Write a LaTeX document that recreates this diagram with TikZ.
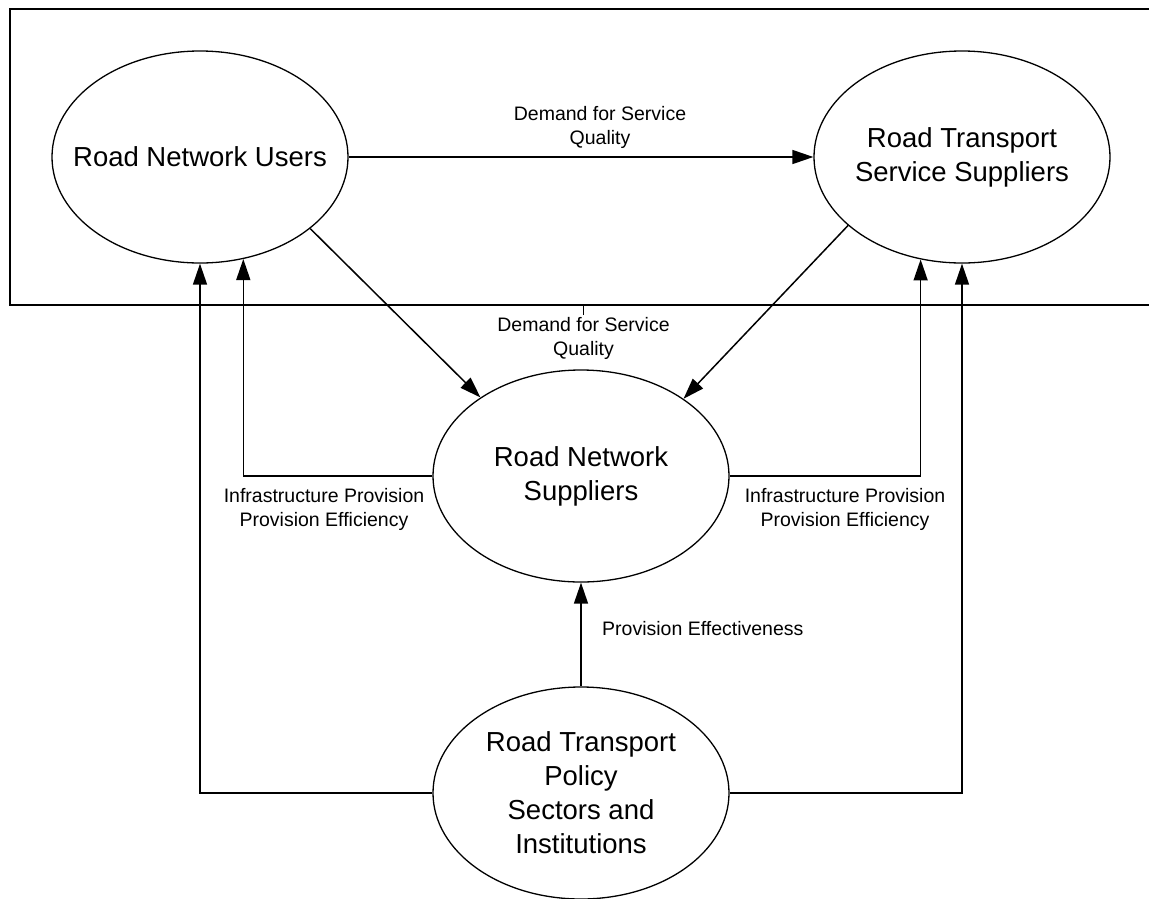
\documentclass[tikz,border=0pt]{standalone}
\usepackage{fontspec}
\setmainfont{Liberation Sans}
\usetikzlibrary{shapes.geometric, arrows.meta}

\begin{document}
\begin{tikzpicture}[x=1pt, y=-1pt,
    entity/.style={draw, ellipse, line width=1.3pt, minimum width=296pt, minimum height=212pt, inner sep=0pt},
    entitytext/.style={font=\fontsize{27.5}{34}\selectfont, align=center},
    flow/.style={-{Triangle[length=21pt, width=14pt]}, line width=1.5pt},
    note/.style={font=\fontsize{19.5}{24}\selectfont, align=center, inner sep=0pt}]
  \useasboundingbox (0,0) rectangle (1149,898);

  % Frame round the two upper actors (open on the right)
  \draw[line width=1.5pt] (1149,9) -- (10,9) -- (10,305) -- (1149,305);

  % Actors
  \node[entity, label={[entitytext]center:Road Network Users}] (users) at (200,157) {};
  \node[entity, label={[entitytext]center:Road Transport\\Service Suppliers}] (service) at (962,157) {};
  \node[entity, label={[entitytext]center:Road Network\\Suppliers}] (suppliers) at (581,476) {};
  \node[entity, label={[entitytext]center:Road Transport\\Policy\\Sectors and\\Institutions}] (policy) at (581,793) {};

  % Flows between actors
  \draw[flow] (users) -- (service);
  \draw[flow] (users.-33) -- (suppliers.142);
  \draw[flow] (service.211) -- (suppliers.37);
  \draw[flow] (policy) -- (suppliers);
  \draw[flow] (suppliers.west) -| (users.-67.5);
  \draw[flow] (suppliers.east) -| (service.-112.5);
  \draw[flow] (policy.west) -| (users.south);
  \draw[flow] (policy.east) -| (service.south);

  % Flow labels
  \node[note] (topdemand) at (600,127) {Demand for Service\\Quality};
  \node[note] (middemand) at (583.5,338.5) {Demand for Service\\Quality};
  \draw[line width=0.8pt] ([yshift=2pt]middemand.north) -- ++(0,-10);
  \node[note] (leftinfra) at (324,509.5) {Infrastructure Provision\\Provision Efficiency};
  \node[note] (rightinfra) at (845,509.5) {Infrastructure Provision\\Provision Efficiency};
  \node[note, anchor=west] (effect) at (602,629) {Provision Effectiveness};
\end{tikzpicture}
\end{document}
